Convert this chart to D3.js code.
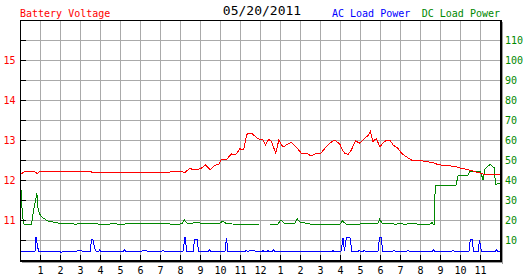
<!DOCTYPE html>
<html>
<head>
<meta charset="utf-8">
<script src="https://cdn.jsdelivr.net/npm/d3@7"></script>
<style>
  html, body { margin: 0; padding: 0; background: #fff; }
  svg { display: block; }
  text { font-family: "DejaVu Sans Mono", "Liberation Mono", monospace; }
</style>
</head>
<body>
<svg id="chart" width="527" height="280"></svg>
<script>
// ---------- data ----------
const chartDate = "05/20/2011";
const hourTicks = d3.range(1, 24);                 // hours of the day shown on the x axis
const voltTicks = [11, 12, 13, 14, 15];            // labelled voltages (left axis)
const powerTicks = [10, 20, 30, 40, 50, 60, 70, 80, 90, 100, 110]; // right axis

// [hour, volts]
const batteryVoltage = [
  [0,12.14],[0.24,12.21],[0.74,12.21],[0.85,12.16],[0.99,12.21],[3.55,12.22],[3.6,12.19],
  [7.49,12.19],[7.55,12.22],[8.0,12.21],[8.25,12.19],[8.49,12.29],[8.65,12.26],[8.8,12.25],
  [9.05,12.29],[9.28,12.38],[9.5,12.26],[9.74,12.36],[9.95,12.4],[10.08,12.52],[10.33,12.52],
  [10.58,12.65],[10.78,12.63],[10.99,12.78],[11.18,12.75],[11.33,13.13],[11.4,13.17],
  [11.58,13.17],[11.83,13.06],[11.99,13.01],[12.15,13.01],[12.27,12.88],[12.44,13.02],
  [12.57,12.96],[12.79,12.67],[12.94,13.0],[13.15,12.82],[13.32,12.88],[13.57,12.94],
  [13.82,12.82],[14.07,12.67],[14.32,12.67],[14.57,12.6],[14.82,12.67],[15.04,12.67],
  [15.24,12.79],[15.49,12.92],[15.74,13.0],[15.99,12.9],[16.07,12.79],[16.24,12.67],
  [16.4,12.64],[16.57,12.75],[16.77,12.98],[16.99,12.92],[17.15,13.0],[17.32,13.08],
  [17.44,13.13],[17.52,13.21],[17.65,12.96],[17.82,13.04],[17.99,12.83],[18.15,12.92],
  [18.32,13.0],[18.49,13.0],[18.65,12.88],[18.9,12.79],[19.07,12.67],[19.32,12.58],
  [19.57,12.5],[20.07,12.48],[20.32,12.46],[20.74,12.42],[20.9,12.38],[21.4,12.36],
  [21.82,12.33],[22.07,12.29],[22.32,12.27],[22.74,12.21],[23.24,12.14],[23.82,12.13],[24,12.13]
];

// [hour, DC load power]
const dcLoadPower = [
  [0,38.3],[0.05,35],[0.12,22.5],[0.17,19],[0.2,17.9],[0.58,17.9],[0.68,25],[0.78,30],
  [0.84,33.3],[0.87,31],[0.9,26],[0.97,23],[1.15,21],[1.4,19.5],[1.7,18.9],[2.0,18.3],
  [2.25,18.0],[2.5,18.5],[2.75,17.8],[3.0,18.2],[3.25,18.0],[3.5,18.5],[3.75,18.3],[4.0,17.8],
  [4.25,18.0],[4.5,18.0],[4.75,18.3],[5.0,17.5],[5.25,18.0],[5.5,18.3],[5.75,18.0],[6.0,18.3],
  [6.25,18.5],[6.5,18.0],[6.75,18.3],[7.0,18.0],[7.25,18.3],[7.5,18.0],[7.75,18.0],[8.0,18.0],
  [8.1,18.2],[8.22,20.0],[8.35,18.5],[8.6,18.3],[8.75,18.8],[9.0,18.5],[9.25,18.0],[9.5,18.5],
  [9.75,18.0],[10.0,18.5],[10.15,19.5],[10.3,18.3],[10.6,18.0],[11.0,17.9],[11.5,17.9],
  [12.0,18.0],[12.5,18.0],[12.9,18.0],[13.05,20.0],[13.2,18.5],[13.5,18.3],[13.75,18.5],
  [13.87,20.5],[14.0,19.0],[14.25,18.5],[14.5,18.0],[15.0,18.0],[15.5,18.0],[16.0,18.0],
  [16.12,19.5],[16.3,18.0],[16.75,18.0],[17.0,18.0],[17.5,18.3],[17.9,18.3],[17.98,20.3],
  [18.1,18.5],[18.5,18.3],[18.75,17.9],[19.0,18.2],[19.25,17.9],[19.5,18.2],[20.0,17.9],
  [20.5,17.9],[20.6,18.8],[20.67,17.9],[20.72,17.9],[20.76,37.5],[21.8,37.5],[21.9,42],
  [22.4,42.5],[22.5,44.5],[23.0,44.5],[23.08,42.5],[23.15,40],[23.25,45.5],[23.5,47.8],
  [23.72,46],[23.77,37.8],[24,38.3]
];

// [hour, AC load power]
const acLoadPower = [
  [0,4.2],[0.75,4.2],[0.8,11.6],[0.85,8.3],[0.9,5.8],[0.95,4.2],[2.0,4.2],[2.05,3.7],[2.12,4.2],
  [2.8,4.2],[2.9,5],[3.05,5],[3.15,4.2],[3.5,4.2],[3.58,10.5],[3.64,10.5],[3.73,5.8],[3.82,4.2],
  [3.92,4.2],[3.98,5],[4.05,4.2],[5.15,4.2],[5.23,5],[5.3,4.2],[6.05,4.2],[6.15,5],[6.3,5],
  [6.38,4.2],[7.08,4.2],[7.15,5],[7.22,4.2],[8.15,4.2],[8.25,11.3],[8.35,4.2],[8.65,4.2],
  [8.73,10.5],[8.85,10.5],[8.93,4.2],[9.4,4.2],[9.48,5],[9.56,4.2],[10.25,4.2],[10.32,11],
  [10.4,4.2],[11.25,4.2],[11.3,5],[11.4,4.2],[11.5,5],[11.6,4.7],[11.7,5],[11.8,4.2],
  [12.1,4.2],[12.15,4.7],[12.22,4.2],[12.35,4.2],[12.4,4.7],[12.47,4.2],[12.6,4.2],[12.67,5],
  [12.75,4.2],[15.6,4.2],[15.65,4.7],[15.72,4.2],[16.05,4.2],[16.15,11],[16.22,4.5],
  [16.32,11.3],[16.5,11],[16.6,4.2],[16.9,4.2],[16.95,5],[17.05,4.2],[17.15,4.2],[17.2,4.7],
  [17.3,4.2],[17.9,4.2],[17.97,11],[18.05,11.3],[18.15,4.2],[18.6,4.2],[18.7,5],[18.8,4.2],
  [19.33,4.2],[19.4,5],[19.47,4.2],[20.6,4.2],[20.68,5],[20.76,4.2],[21.58,4.2],[21.65,5],
  [21.72,4.2],[22.45,4.2],[22.52,10.5],[22.6,10.5],[22.68,4.2],[22.9,4.2],[22.98,10],
  [23.07,4.2],[23.75,4.2],[23.82,5],[23.9,4.2],[24,4.2]
];

// ---------- chart ----------
const svg = d3.select("#chart");
const pLeft = 20, pRight = 500, pTop = 20, pBottom = 260;
const x = d3.scaleLinear().domain([0, 24]).range([pLeft, pRight]);
const yV = d3.scaleLinear().domain([10, 16]).range([pBottom, pTop]);
const yP = d3.scaleLinear().domain([0, 120]).range([pBottom, pTop]);

const RED = "#ff0000", BLUE = "#0000ff", GREEN = "#008800";

// grid
const grid = svg.append("g").attr("stroke", "#aaaaaa").attr("stroke-width", 1).attr("shape-rendering", "crispEdges");
grid.selectAll("line.v").data(hourTicks).join("line")
  .attr("x1", d => Math.round(x(d)) + 0.5).attr("x2", d => Math.round(x(d)) + 0.5)
  .attr("y1", pTop).attr("y2", pBottom);
const gridV = d3.range(10.5, 16, 0.5);
grid.selectAll("line.h").data(gridV).join("line")
  .attr("y1", d => Math.round(yV(d)) + 0.5).attr("y2", d => Math.round(yV(d)) + 0.5)
  .attr("x1", pLeft).attr("x2", pRight);

// lines
function drawLine(data, yScale, color) {
  svg.append("path")
    .datum(data)
    .attr("fill", "none")
    .attr("stroke", color)
    .attr("stroke-width", 1)
    .attr("shape-rendering", "crispEdges")
    .attr("d", d3.line().x(d => x(d[0])).y(d => yScale(d[1])));
}
drawLine(acLoadPower, yP, BLUE);
drawLine(dcLoadPower, yP, GREEN);
drawLine(batteryVoltage, yV, RED);

// frame + shadow
svg.append("rect").attr("x", pRight + 2).attr("y", pTop + 2).attr("width", 1).attr("height", pBottom - pTop + 2).attr("fill", "#999");
svg.append("rect").attr("x", pLeft + 2).attr("y", pBottom + 2).attr("width", pRight - pLeft + 1).attr("height", 1).attr("fill", "#999");
svg.append("rect").attr("x", pRight).attr("y", pTop).attr("width", 2).attr("height", pBottom - pTop + 2).attr("fill", "#000");
svg.append("rect").attr("x", pLeft).attr("y", pBottom).attr("width", pRight - pLeft + 2).attr("height", 2).attr("fill", "#000");
svg.append("rect").attr("x", pLeft).attr("y", pTop).attr("width", pRight - pLeft).attr("height", 1).attr("fill", "#000");
svg.append("rect").attr("x", pLeft).attr("y", pTop).attr("width", 1).attr("height", pBottom - pTop).attr("fill", "#000");

// left axis (voltage)
const leftAxis = d3.axisLeft(yV)
  .tickValues(gridV)
  .tickSize(-5)
  .tickPadding(5)
  .tickFormat(d => voltTicks.includes(d) ? d3.format("d")(d) : "");
const gL = svg.append("g").attr("transform", `translate(${pLeft + 0.5},0)`).call(leftAxis);
gL.select(".domain").remove();
gL.selectAll(".tick line").attr("stroke", "#000").attr("shape-rendering", "crispEdges");
gL.selectAll(".tick text").attr("fill", RED).attr("font-size", 10)
  .attr("font-family", "DejaVu Sans Mono");

// bottom axis (hours)
const bottomAxis = d3.axisBottom(x)
  .tickValues(hourTicks)
  .tickSize(-5)
  .tickPadding(7)
  .tickFormat(d => String(d % 12 === 0 ? 12 : d % 12));
const gB = svg.append("g").attr("transform", `translate(0,${pBottom})`).call(bottomAxis);
gB.select(".domain").remove();
gB.selectAll(".tick line").attr("stroke", "#000").attr("shape-rendering", "crispEdges");
gB.selectAll(".tick text").attr("fill", "#000").attr("font-size", 10)
  .attr("font-family", "DejaVu Sans Mono");

// right axis (power)
const rightAxis = d3.axisRight(yP).tickValues(powerTicks).tickSize(0).tickPadding(5);
const gR = svg.append("g").attr("transform", `translate(${pRight},0)`).call(rightAxis);
gR.select(".domain").remove();
gR.selectAll(".tick text").attr("fill", GREEN).attr("font-size", 10)
  .attr("font-family", "DejaVu Sans Mono");

// titles
svg.append("text").attr("x", pLeft).attr("y", 17).attr("fill", RED).attr("font-size", 10).text("Battery Voltage");
svg.append("text").attr("x", 262).attr("y", 15).attr("text-anchor", "middle").attr("fill", "#000").attr("font-size", 13).text(chartDate);
svg.append("text").attr("x", 332).attr("y", 17).attr("fill", BLUE).attr("font-size", 10).text("AC Load Power");
svg.append("text").attr("x", 500).attr("y", 17).attr("text-anchor", "end").attr("fill", GREEN).attr("font-size", 10).text("DC Load Power");
</script>
</body>
</html>
